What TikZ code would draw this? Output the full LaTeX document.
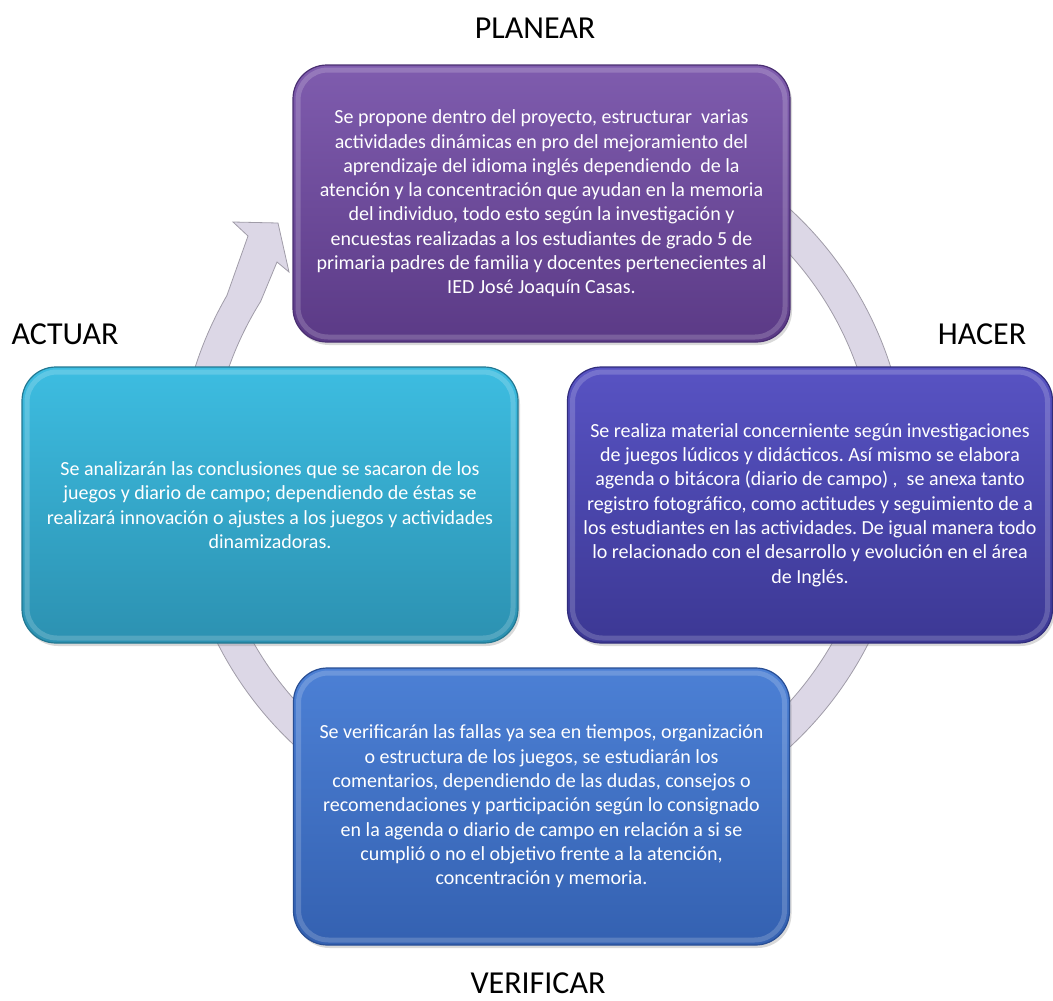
\documentclass[tikz,border=0pt]{standalone}
\usepackage{fontspec}
\setmainfont{Carlito}
\usetikzlibrary{calc,shadows}
\frenchspacing

\definecolor{planeartop}{HTML}{7F5CAE}
\definecolor{planearbot}{HTML}{5B3A86}
\definecolor{planearline}{HTML}{4A2F72}
\definecolor{hacertop}{HTML}{5853C3}
\definecolor{hacerbot}{HTML}{3C3894}
\definecolor{hacerline}{HTML}{302C7C}
\definecolor{actuartop}{HTML}{3DBDE1}
\definecolor{actuarbot}{HTML}{2C91B1}
\definecolor{actuarline}{HTML}{227892}
\definecolor{verificartop}{HTML}{4C80D5}
\definecolor{verificarbot}{HTML}{3461B1}
\definecolor{verificarline}{HTML}{284E94}
\definecolor{ringfill}{HTML}{DCD7E6}
\definecolor{ringline}{HTML}{A09CA8}

\begin{document}
\begin{tikzpicture}[x=1pt,y=-1pt,
	pasobox/.style={rectangle, rounded corners=34pt, draw, line width=1.2pt, text=white,
	align=center, inner sep=3pt, font=\fontsize{20}{24.3}\selectfont,
	drop shadow={opacity=0.3, shadow xshift=2pt, shadow yshift=-3pt},
	path picture={\draw[white, opacity=0.18, line width=5pt, rounded corners=30pt]
	([xshift=5pt,yshift=5pt]path picture bounding box.south west) rectangle
	([xshift=-5pt,yshift=-5pt]path picture bounding box.north east);}},
	etiqueta/.style={font=\fontsize{32}{38}\selectfont, text=black, inner sep=0pt},
	anillo/.style={draw=ringline, line width=0.8pt, fill=ringfill}]
		
		\useasboundingbox (0,0) rectangle (1053,1001);
		
		%Ring
		\coordinate (ringc) at (543,478);
		\draw[anillo] ($(ringc)+(-60:365)$) arc[start angle=-60, end angle=210, radius=365]
		-- (248,236) -- (233,222) -- (278,223) -- (289,272) -- (277,262)
		-- ($(ringc)+(212:333)$) arc[start angle=212, end angle=-60, radius=333] -- cycle;
		
		%Boxes
		\node (planear) at (541.5,203.5) [pasobox, minimum width=497pt, minimum height=277pt,
		top color=planeartop, bottom color=planearbot, draw=planearline]
		{Se propone dentro del proyecto, estructurar\ \ varias\\
		actividades dinámicas en pro del mejoramiento del\\
		aprendizaje del idioma inglés dependiendo\ \ de la\\
		atención y la concentración que ayudan en la memoria\\
		del individuo, todo esto según la investigación y\\
		encuestas realizadas a los estudiantes de grado 5 de\\
		primaria padres de familia y docentes pertenecientes al\\
		IED José Joaquín Casas.};
		\node (hacer) at (810,505) [pasobox, minimum width=485pt, minimum height=276pt,
		top color=hacertop, bottom color=hacerbot, draw=hacerline]
		{Se realiza material concerniente según investigaciones\\
		de juegos lúdicos y didácticos. Así mismo se elabora\\
		agenda o bitácora (diario de campo) ,\ \ se anexa tanto\\
		registro fotográfico, como actitudes y seguimiento de a\\
		los estudiantes en las actividades. De igual manera todo\\
		lo relacionado con el desarrollo y evolución en el área\\
		de Inglés.};
		\node (actuar) at (270,505) [pasobox, minimum width=496pt, minimum height=276pt,
		top color=actuartop, bottom color=actuarbot, draw=actuarline]
		{Se analizarán las conclusiones que se sacaron de los\\
		juegos y diario de campo; dependiendo de éstas se\\
		realizará innovación o ajustes a los juegos y actividades\\
		dinamizadoras.};
		\node (verificar) at (541.5,806.5) [pasobox, minimum width=496pt, minimum height=277pt,
		top color=verificartop, bottom color=verificarbot, draw=verificarline]
		{Se verificarán las fallas ya sea en tiempos, organización\\
		o estructura de los juegos, se estudiarán los\\
		comentarios, dependiendo de las dudas, consejos o\\
		recomendaciones y participación según lo consignado\\
		en la agenda o diario de campo en relación a si se\\
		cumplió o no el objetivo frente a la atención,\\
		concentración y memoria.};
		
		%Labels
		\node (planearlbl) at (535,28) [etiqueta] {PLANEAR};
		\node (hacerlbl) at (982,334) [etiqueta] {HACER};
		\node (actuarlbl) at (65,334) [etiqueta] {ACTUAR};
		\node (verificarlbl) at (538,983) [etiqueta] {VERIFICAR};
		
\end{tikzpicture}
\end{document}
